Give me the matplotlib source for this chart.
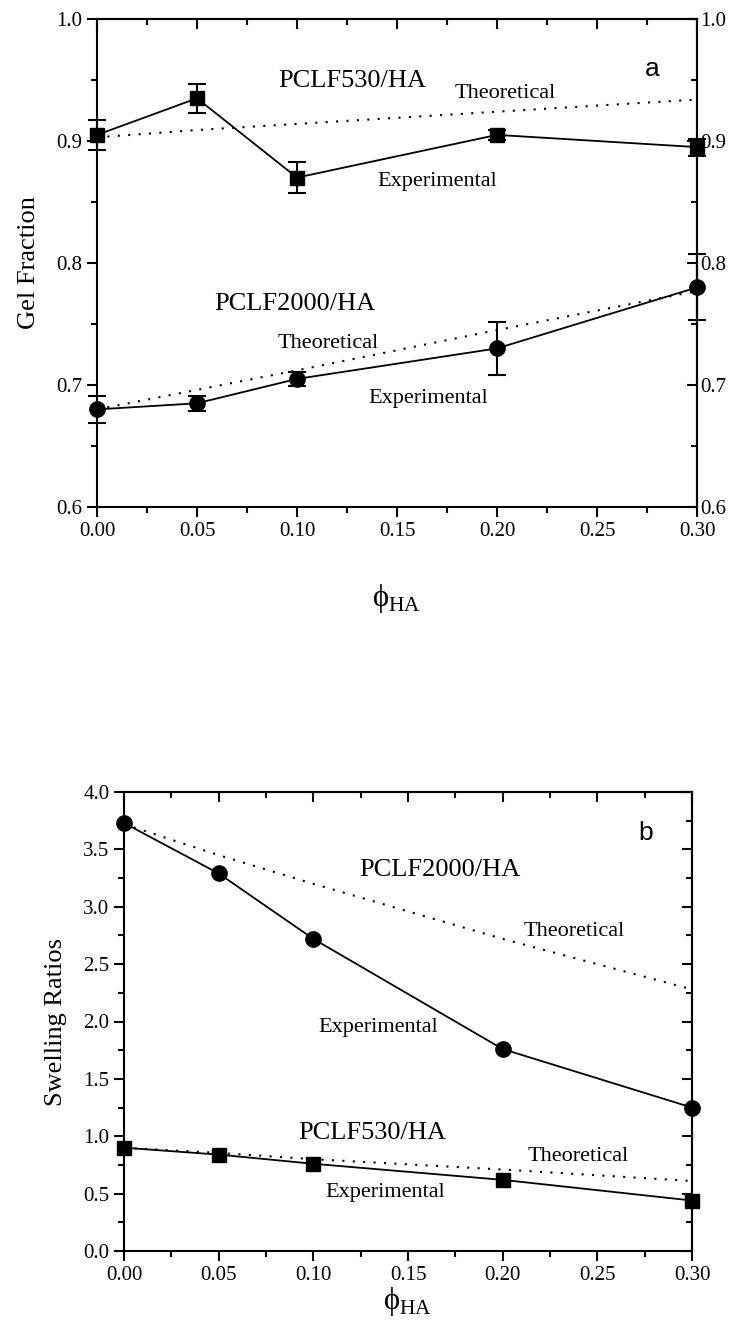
import matplotlib
matplotlib.use("Agg")
import matplotlib.pyplot as plt
from matplotlib.ticker import MultipleLocator

plt.rcParams['font.family'] = ['Liberation Serif', 'DejaVu Serif']
plt.rcParams['mathtext.fontset'] = 'custom'
plt.rcParams['mathtext.rm'] = 'Liberation Serif'

# --- data ---
phi = [0.0, 0.05, 0.10, 0.20, 0.30]

# (a) gel fraction
gel530_exp = [0.905, 0.935, 0.870, 0.905, 0.895]
gel530_err = [0.012, 0.012, 0.0125, 0.004, 0.007]
gel530_theo = [0.903, 0.909, 0.914, 0.924, 0.934]
gel2000_exp = [0.680, 0.685, 0.705, 0.730, 0.780]
gel2000_err = [0.011, 0.006, 0.006, 0.022, 0.027]
gel2000_theo = [0.680, 0.696, 0.712, 0.745, 0.777]

# (b) swelling ratios
sw2000_exp = [3.73, 3.29, 2.72, 1.76, 1.25]
sw2000_theo = [3.72, 3.45, 3.20, 2.72, 2.28]
sw530_exp = [0.90, 0.84, 0.76, 0.62, 0.44]
sw530_theo = [0.90, 0.855, 0.80, 0.71, 0.61]

xlab = 'ϕ$_{\\mathrm{HA}}$'

fig = plt.figure(figsize=(7.39, 13.25), dpi=100)
W, H = 739, 1325

def make_axes(l, r, t, b):
    return fig.add_axes([l / W, 1 - b / H, (r - l) / W, (b - t) / H])

def style(ax, ylim, ymaj, ymin, right_labels):
    ax.set_xlim(0, 0.30)
    ax.set_ylim(*ylim)
    for s in ax.spines.values():
        s.set_linewidth(1.5)
    ax.xaxis.set_major_locator(MultipleLocator(0.05))
    ax.xaxis.set_minor_locator(MultipleLocator(0.025))
    ax.yaxis.set_major_locator(MultipleLocator(ymaj))
    ax.yaxis.set_minor_locator(MultipleLocator(ymin))
    ax.tick_params(which='both', direction='out', width=1.5, labelsize=15)
    ax.tick_params(which='major', length=7)
    ax.tick_params(which='minor', length=4)
    ax.xaxis.set_major_formatter(plt.FormatStrFormatter('%.2f'))
    ax.yaxis.set_major_formatter(plt.FormatStrFormatter('%.1f'))
    # mirrored axes with inward ticks
    top = ax.secondary_xaxis('top')
    top.xaxis.set_major_locator(MultipleLocator(0.05))
    top.xaxis.set_minor_locator(MultipleLocator(0.025))
    top.tick_params(which='both', direction='in', width=1.5, labeltop=False)
    top.tick_params(which='major', length=7)
    top.tick_params(which='minor', length=4)
    top.spines['top'].set_linewidth(1.5)
    rgt = ax.secondary_yaxis('right')
    rgt.yaxis.set_major_locator(MultipleLocator(ymaj))
    rgt.yaxis.set_minor_locator(MultipleLocator(ymin))
    rgt.yaxis.set_major_formatter(plt.FormatStrFormatter('%.1f'))
    rgt.tick_params(which='both', direction='in', width=1.5, labelsize=15,
                    labelright=right_labels, pad=2)
    rgt.tick_params(which='major', length=7)
    rgt.tick_params(which='minor', length=4)
    rgt.spines['right'].set_linewidth(1.5)

# ---------- panel a ----------
ax1 = make_axes(97, 697, 19, 507)
style(ax1, (0.6, 1.0), 0.1, 0.05, True)

ax1.plot(phi, gel530_theo, color='black', lw=1.5, ls=(0, (1, 4)))
ax1.plot(phi, gel2000_theo, color='black', lw=1.5, ls=(0, (1, 4)))
ax1.errorbar(phi, gel530_exp, yerr=gel530_err, color='black', lw=1.3,
             marker='s', ms=10, capsize=6.5, capthick=1.5, elinewidth=1.5,
             clip_on=False, zorder=5)
ax1.errorbar(phi, gel2000_exp, yerr=gel2000_err, color='black', lw=1.3,
             marker='o', ms=11, capsize=6.5, capthick=1.5, elinewidth=1.5,
             clip_on=False, zorder=5)

ax1.text(0.1275, 0.949, 'PCLF530/HA', fontsize=19, ha='center', va='center')
ax1.text(0.204, 0.939, 'Theoretical', fontsize=16, ha='center', va='center')
ax1.text(0.170, 0.867, 'Experimental', fontsize=16, ha='center', va='center')
ax1.text(0.099, 0.766, 'PCLF2000/HA', fontsize=19, ha='center', va='center')
ax1.text(0.1155, 0.734, 'Theoretical', fontsize=16, ha='center', va='center')
ax1.text(0.1655, 0.689, 'Experimental', fontsize=16, ha='center', va='center')
ax1.text(0.2775, 0.959, 'a', fontsize=19, family='Liberation Sans',
         ha='center', va='center')

ax1.set_ylabel('Gel Fraction', fontsize=19, labelpad=12)
ax1.set_xlabel(xlab, fontsize=22, labelpad=30)

# ---------- panel b ----------
ax2 = make_axes(124, 692, 792, 1251)
style(ax2, (0.0, 4.0), 0.5, 0.25, False)

ax2.plot(phi, sw2000_theo, color='black', lw=1.5, ls=(0, (1, 4)))
ax2.plot(phi, sw530_theo, color='black', lw=1.5, ls=(0, (1, 4)))
ax2.plot(phi, sw2000_exp, color='black', lw=1.3, marker='o', ms=11,
         clip_on=False, zorder=5)
ax2.plot(phi, sw530_exp, color='black', lw=1.3, marker='s', ms=10,
         clip_on=False, zorder=5)

ax2.text(0.167, 3.32, 'PCLF2000/HA', fontsize=19, ha='center', va='center')
ax2.text(0.2376, 2.78, 'Theoretical', fontsize=16, ha='center', va='center')
ax2.text(0.1344, 1.95, 'Experimental', fontsize=16, ha='center', va='center')
ax2.text(0.131, 1.03, 'PCLF530/HA', fontsize=19, ha='center', va='center')
ax2.text(0.2397, 0.82, 'Theoretical', fontsize=16, ha='center', va='center')
ax2.text(0.138, 0.51, 'Experimental', fontsize=16, ha='center', va='center')
ax2.text(0.2757, 3.64, 'b', fontsize=19, family='Liberation Sans',
         ha='center', va='center')

ax2.set_ylabel('Swelling Ratios', fontsize=19, labelpad=12)
ax2.set_xlabel(xlab, fontsize=22, labelpad=0)

fig.savefig('out.png', dpi=100)
